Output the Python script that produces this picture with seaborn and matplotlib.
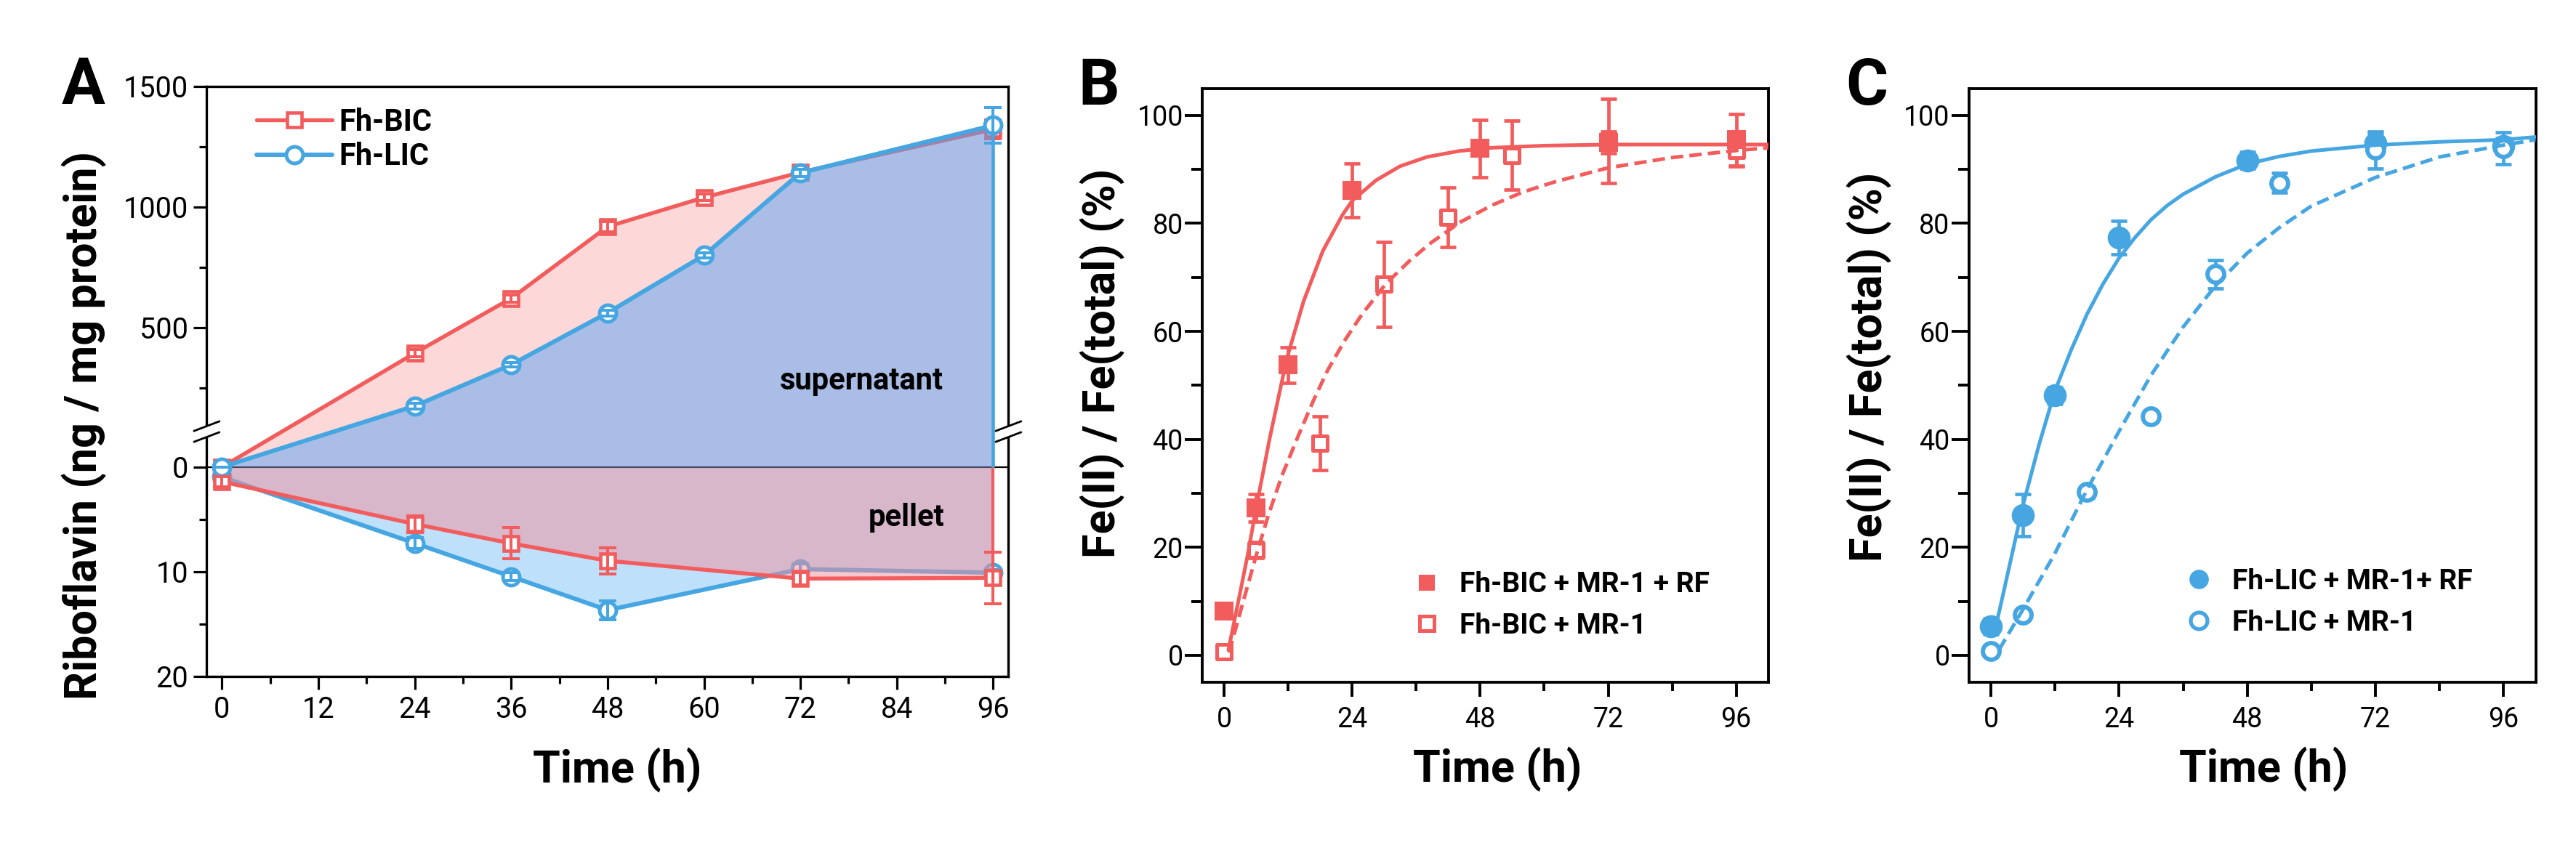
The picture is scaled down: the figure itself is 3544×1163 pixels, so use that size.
import numpy as np
import matplotlib
matplotlib.use("Agg")
import matplotlib.pyplot as plt
import seaborn as sns
from matplotlib.lines import Line2D
from matplotlib.ticker import FixedLocator, MultipleLocator, FixedFormatter

# ---------------- Panel A data: riboflavin (ng / mg protein) ----------------
time_sup = [0, 24, 36, 48, 60, 72, 96]
bic_sup = [0, 394, 621, 918, 1039, 1143, 1321]
bic_sup_err = [0, 15, 15, 22, 14, 12, 40]
lic_sup = [0, 175, 346, 561, 799, 1141, 1338]
lic_sup_err = [0, 12, 10, 12, 10, 15, 75]

time_pel = [0, 24, 36, 48, 72, 96]
bic_pel = [1.4, 5.45, 7.3, 8.96, 10.67, 10.6]
bic_pel_err = [0.5, 0.8, 1.5, 1.24, 0.6, 2.45]
lic_pel = [0.95, 7.28, 10.47, 13.68, 9.76, 10.1]
lic_pel_err = [0.3, 0.5, 0.4, 0.9, 0.5, 0.3]

a_ticks_major = [-20, -10, 0, 500, 1000, 1500]
a_ticks_major_lbl = ["20", "10", "0", "500", "1000", "1500"]
a_ticks_minor = [-15, -5, 250, 750, 1250]

# ---------------- Panel B data: Fh-BIC ----------------
time_b_rf = [0, 6, 12, 24, 48, 72, 96]
bic_rf = [8.2, 27.3, 53.8, 86.1, 93.9, 95.0, 95.5]
bic_rf_err = [1.0, 2.5, 3.3, 5.0, 5.3, 2.0, 4.8]
time_b = [0, 6, 18, 30, 42, 54, 72, 96]
bic_mr = [0.7, 19.5, 39.3, 68.7, 81.1, 92.6, 95.3, 93.5]
bic_mr_err = [0.5, 1.5, 5.0, 7.9, 5.5, 6.4, 7.8, 3.0]

fit_t_b_rf = [0.8, 2.6, 4.35, 6, 8.5, 11.7, 14.9, 18.5, 22.2, 24, 28.5, 33, 38, 44, 50, 60, 72, 84, 96, 102]
fit_b_rf = [1.0, 9.7, 18.3, 27.3, 40.0, 54.8, 65.6, 74.9, 81.6, 84.2, 88.0, 90.6, 92.3, 93.4, 94.0, 94.4, 94.6, 94.6, 94.6, 94.6]
fit_t_b = [0.9, 3.5, 6, 8.3, 10.8, 14, 16.7, 19.4, 22.6, 25.8, 30.3, 34.9, 38.9, 44.4, 50.3, 56, 62, 72, 84, 96, 102]
fit_b = [0.5, 9.7, 18.5, 26.0, 33.2, 40.9, 47.1, 52.8, 58.3, 63.1, 68.8, 73.2, 76.5, 80.3, 83.4, 85.8, 87.7, 90.3, 92.2, 93.5, 94.0]

# ---------------- Panel C data: Fh-LIC ----------------
time_c_rf = [0, 6, 12, 24, 48, 72, 96]
lic_rf = [5.4, 25.9, 48.1, 77.4, 91.7, 94.8, 94.3]
lic_rf_err = [1.5, 3.9, 1.5, 3.1, 1.5, 2.0, 1.5]
time_c = [0, 6, 18, 30, 42, 54, 72, 96]
lic_mr = [0.75, 7.5, 30.2, 44.2, 70.6, 87.5, 93.6, 93.9]
lic_mr_err = [0.5, 0.8, 1.0, 1.0, 2.6, 1.8, 3.4, 3.0]

fit_t_c_rf = [1, 3, 6, 9, 12, 15, 18, 21, 24, 27, 30, 33, 36, 42, 48, 54, 60, 72, 84, 96, 102]
fit_c_rf = [5.7, 14.5, 27.8, 39.0, 49.0, 56.5, 63.2, 68.8, 73.6, 77.4, 80.7, 83.3, 85.4, 88.6, 91.0, 92.4, 93.4, 94.5, 95.1, 95.5, 96.0]
fit_t_c = [1.5, 6, 12, 18, 24, 30, 36, 42, 48, 54, 60, 72, 84, 96, 102]
fit_c = [1.0, 8.5, 18.9, 30.7, 41.5, 51.9, 60.8, 68.4, 74.5, 79.2, 83.2, 88.5, 92.3, 94.5, 95.5]

# ---------------- style ----------------
RED = "#F25C5C"
BLUE = "#46A6E1"
sns.set_theme(style="ticks", rc={
    "axes.edgecolor": "black", "xtick.color": "black", "ytick.color": "black",
    "text.color": "black", "axes.labelcolor": "black",
})
plt.rcParams["font.family"] = ["Roboto", "DejaVu Sans"]

W, H = 3544, 1163
fig = plt.figure(figsize=(W / 100, H / 100), dpi=100)


def fx(px):
    return px / W


def fy(py):
    return 1 - py / H


def rect(l, t, r, b):
    return [fx(l), fy(b), (r - l) / W, (b - t) / H]


axA = fig.add_axes(rect(284.4, 118.7, 1387.4, 930.7))
axB = fig.add_axes(rect(1654.1, 121.7, 2433.4, 939.0))
axC = fig.add_axes(rect(2709.0, 121.7, 3489.0, 939.0))

for ax, lw in ((axA, 2.4), (axB, 2.8), (axC, 2.8)):
    for s in ax.spines.values():
        s.set_visible(True)
        s.set_linewidth(lw)
        s.set_color("black")

# ---------------- Panel A ----------------
SUP_OFF, SUP_K, PEL_K, EPS = 26.0, 0.3322, 14.4, 1.0
D_EPS = SUP_OFF + SUP_K * EPS


def fwd(u):
    u = np.asarray(u, float)
    return np.where(u < 0, u * PEL_K, np.where(u < EPS, u * D_EPS / EPS, SUP_OFF + SUP_K * u))


def inv(d):
    d = np.asarray(d, float)
    return np.where(d < 0, d / PEL_K, np.where(d < D_EPS, d * EPS / D_EPS, (d - SUP_OFF) / SUP_K))


axA.set_yscale("function", functions=(fwd, inv))
axA.set_xlim(-1.9, 97.9)
axA.set_ylim(-20, 1500)

neg_bic_pel = [-v for v in bic_pel]
neg_lic_pel = [-v for v in lic_pel]

# base fills
axA.fill_between(time_pel, 0, neg_lic_pel, color="#BEE0FB", lw=0, zorder=1)
axA.fill_between(time_sup, 0, bic_sup, color="#FDD8D8", lw=0, zorder=1)
axA.axhline(0, color="black", lw=1.6, zorder=1.5)

mk_sq = dict(marker="s", markersize=15, markerfacecolor="white", markeredgecolor=RED, markeredgewidth=3.3)
mk_ci = dict(marker="o", markersize=16.5, markerfacecolor="white", markeredgecolor=BLUE, markeredgewidth=3.6)
eb_kw = dict(fmt="none", elinewidth=2.9, capsize=8.5, capthick=2.9)

# lower layer: LIC pellet, BIC supernatant
sns.lineplot(x=time_pel, y=neg_lic_pel, ax=axA, color=BLUE, lw=4.3, sort=False, estimator=None,
             zorder=2, **mk_ci)
axA.errorbar(time_pel, neg_lic_pel, yerr=lic_pel_err, ecolor=BLUE, zorder=2.5, **eb_kw)
sns.lineplot(x=time_sup, y=bic_sup, ax=axA, color=RED, lw=3.9, sort=False, estimator=None,
             zorder=2, **mk_sq)
axA.errorbar(time_sup, bic_sup, yerr=bic_sup_err, ecolor=RED, zorder=2.5, **eb_kw)

# translucent fills
axA.fill_between(time_pel, 0, neg_bic_pel, color="#F3909D", alpha=0.5, lw=0, zorder=3)
axA.fill_between(time_sup, 0, lic_sup, color="#57A4F4", alpha=0.5, lw=0, zorder=3)
axA.vlines(time_pel[-1], neg_bic_pel[-1], 0, color=RED, lw=3.0, zorder=3.2)
axA.vlines(time_sup[-1], 0, lic_sup[-1], color=BLUE, lw=3.3, zorder=3.2)

# upper layer: BIC pellet, LIC supernatant
sns.lineplot(x=time_pel, y=neg_bic_pel, ax=axA, color=RED, lw=3.9, sort=False, estimator=None,
             zorder=4, **mk_sq)
axA.errorbar(time_pel, neg_bic_pel, yerr=bic_pel_err, ecolor=RED, zorder=4.5, **eb_kw)
sns.lineplot(x=time_sup, y=lic_sup, ax=axA, color=BLUE, lw=4.3, sort=False, estimator=None,
             zorder=4, **mk_ci)
axA.errorbar(time_sup, lic_sup, yerr=lic_sup_err, ecolor=BLUE, zorder=4.5, **eb_kw)

axA.yaxis.set_major_locator(FixedLocator(a_ticks_major))
axA.yaxis.set_major_formatter(FixedFormatter(a_ticks_major_lbl))
axA.yaxis.set_minor_locator(FixedLocator(a_ticks_minor))
axA.xaxis.set_major_locator(MultipleLocator(12))
axA.xaxis.set_minor_locator(MultipleLocator(6))
axA.tick_params(axis="both", which="major", length=13.2, width=2.3, labelsize=28.5, direction="out")
axA.tick_params(axis="both", which="minor", length=7.2, width=2.3, direction="out")
axA.tick_params(axis="y", which="major", pad=5)
axA.tick_params(axis="x", which="major", pad=6)
axA.set_xlabel("")
axA.set_ylabel("")

axA.text(79.6, 277, "supernatant", ha="center", va="center", fontsize=30, fontweight="bold", zorder=6)
axA.text(85.2, -4.83, "pellet", ha="center", va="center", fontsize=30, fontweight="bold", zorder=6)

# axis-break marks on left and right spines
axw, axh = 1103.0, 812.0
yb = (930.7 - 594.0) / axh
hx, hy, off = 17.5 / axw, 6.65 / axh, 7.5 / axh
for xs in (0.0, 1.0):
    poly = plt.Polygon([(xs - hx, yb + off - hy), (xs + hx, yb + off + hy),
                        (xs + hx, yb - off + hy), (xs - hx, yb - off - hy)],
                       closed=True, transform=axA.transAxes, facecolor="white",
                       edgecolor="none", clip_on=False, zorder=10)
    axA.add_patch(poly)
    for o in (off, -off):
        axA.plot([xs - hx, xs + hx], [yb + o - hy, yb + o + hy], transform=axA.transAxes,
                 color="black", lw=2.0, clip_on=False, zorder=11)

legA = axA.legend(
    handles=[Line2D([], [], color=RED, lw=3.9, **mk_sq), Line2D([], [], color=BLUE, lw=4.3, **mk_ci)],
    labels=["Fh-BIC", "Fh-LIC"], loc="upper left", bbox_to_anchor=(0.0622, 0.964),
    frameon=False, borderpad=0, borderaxespad=0, handlelength=2.5, handletextpad=0.22,
    labelspacing=0.15, prop={"size": 30, "weight": "bold"})

# ---------------- Panels B and C ----------------
eb2 = dict(fmt="none", elinewidth=3.4, capsize=7.8, capthick=3.4, zorder=2)
CURVE_LW = 3.6
DASH = (0, (3.4, 1.7))


def style_bc(ax):
    ax.set_xlim(-4.1, 102.1)
    ax.set_ylim(-5, 105)
    ax.xaxis.set_major_locator(MultipleLocator(24))
    ax.xaxis.set_minor_locator(MultipleLocator(12))
    ax.yaxis.set_major_locator(MultipleLocator(20))
    ax.yaxis.set_minor_locator(MultipleLocator(10))
    ax.tick_params(axis="both", which="both", width=2.8, direction="out", labelsize=27)
    ax.tick_params(axis="y", which="major", length=17, pad=2)
    ax.tick_params(axis="y", which="minor", length=10.5)
    ax.tick_params(axis="x", which="major", length=14.5, pad=9)
    ax.tick_params(axis="x", which="minor", length=8.4)
    ax.set_xlabel("")
    ax.set_ylabel("")


# Panel B
axB.errorbar(time_b, bic_mr, yerr=bic_mr_err, ecolor=RED, **eb2)
axB.errorbar(time_b_rf, bic_rf, yerr=bic_rf_err, ecolor=RED, **eb2)
sns.scatterplot(x=time_b, y=bic_mr, ax=axB, marker="s", s=225, color=RED, facecolor="white",
                edgecolor=RED, linewidth=3.6, zorder=3)
sns.scatterplot(x=time_b_rf, y=bic_rf, ax=axB, marker="s", s=361, color=RED, edgecolor=RED,
                linewidth=0, zorder=3.5)
sns.lineplot(x=fit_t_b, y=fit_b, ax=axB, color=RED, lw=CURVE_LW, sort=False, estimator=None, zorder=4)
axB.lines[-1].set_linestyle(DASH)
sns.lineplot(x=fit_t_b_rf, y=fit_b_rf, ax=axB, color=RED, lw=CURVE_LW, sort=False, estimator=None, zorder=4)
style_bc(axB)
axB.legend(
    handles=[Line2D([], [], ls="none", marker="s", ms=16.5, color=RED, mec=RED, mew=0),
             Line2D([], [], ls="none", marker="s", ms=13.7, mfc="white", mec=RED, mew=3.6)],
    labels=["Fh-BIC + MR-1 + RF", "Fh-BIC + MR-1"], loc="upper left",
    bbox_to_anchor=(0.372, 0.187), frameon=False, borderpad=0, borderaxespad=0,
    handlelength=1.0, handletextpad=0.645, labelspacing=0.5, prop={"size": 28, "weight": "bold"})

# Panel C
axC.errorbar(time_c_rf, lic_rf, yerr=lic_rf_err, ecolor=BLUE, **eb2)
axC.errorbar(time_c, lic_mr, yerr=lic_mr_err, ecolor=BLUE, **eb2)
sns.scatterplot(x=time_c_rf, y=lic_rf, ax=axC, marker="o", s=520, color=BLUE, edgecolor=BLUE,
                linewidth=0, zorder=3)
sns.scatterplot(x=time_c, y=lic_mr, ax=axC, marker="o", s=272, color=BLUE, facecolor="white",
                edgecolor=BLUE, linewidth=4.3, zorder=3.5)
sns.lineplot(x=fit_t_c, y=fit_c, ax=axC, color=BLUE, lw=CURVE_LW, sort=False, estimator=None, zorder=4)
axC.lines[-1].set_linestyle(DASH)
sns.lineplot(x=fit_t_c_rf, y=fit_c_rf, ax=axC, color=BLUE, lw=CURVE_LW, sort=False, estimator=None, zorder=4)
style_bc(axC)
axC.legend(
    handles=[Line2D([], [], ls="none", marker="o", ms=19.2, color=BLUE, mec=BLUE, mew=0),
             Line2D([], [], ls="none", marker="o", ms=16.5, mfc="white", mec=BLUE, mew=3.8)],
    labels=["Fh-LIC + MR-1+ RF", "Fh-LIC + MR-1"], loc="upper left",
    bbox_to_anchor=(0.38, 0.192), frameon=False, borderpad=0, borderaxespad=0,
    handlelength=1.0, handletextpad=0.68, labelspacing=0.5, prop={"size": 28, "weight": "bold"})

# ---------------- labels ----------------
lab = dict(fontsize=44, fontweight="bold")
fig.text(fx(133.3), fy(585), "Riboflavin (ng / mg protein)", rotation=90, ha="center",
         va="baseline", rotation_mode="anchor", **lab)
fig.text(fx(1534.2), fy(500), "Fe(II) / Fe(total) (%)", rotation=90, ha="center",
         va="baseline", rotation_mode="anchor", **lab)
fig.text(fx(2589.0), fy(505), "Fe(II) / Fe(total) (%)", rotation=90, ha="center",
         va="baseline", rotation_mode="anchor", **lab)
fig.text(fx(849), fy(1077), "Time (h)", ha="center", va="baseline", **lab)
fig.text(fx(2060), fy(1076), "Time (h)", ha="center", va="baseline", **lab)
fig.text(fx(3114), fy(1076), "Time (h)", ha="center", va="baseline", **lab)

let = dict(fontsize=64, fontweight="bold", ha="center", va="baseline")
fig.text(fx(114.5), fy(143), "A", **let)
fig.text(fx(1512), fy(144), "B", **let)
fig.text(fx(2568), fy(144), "C", **let)

fig.savefig("out.png", dpi=100)
